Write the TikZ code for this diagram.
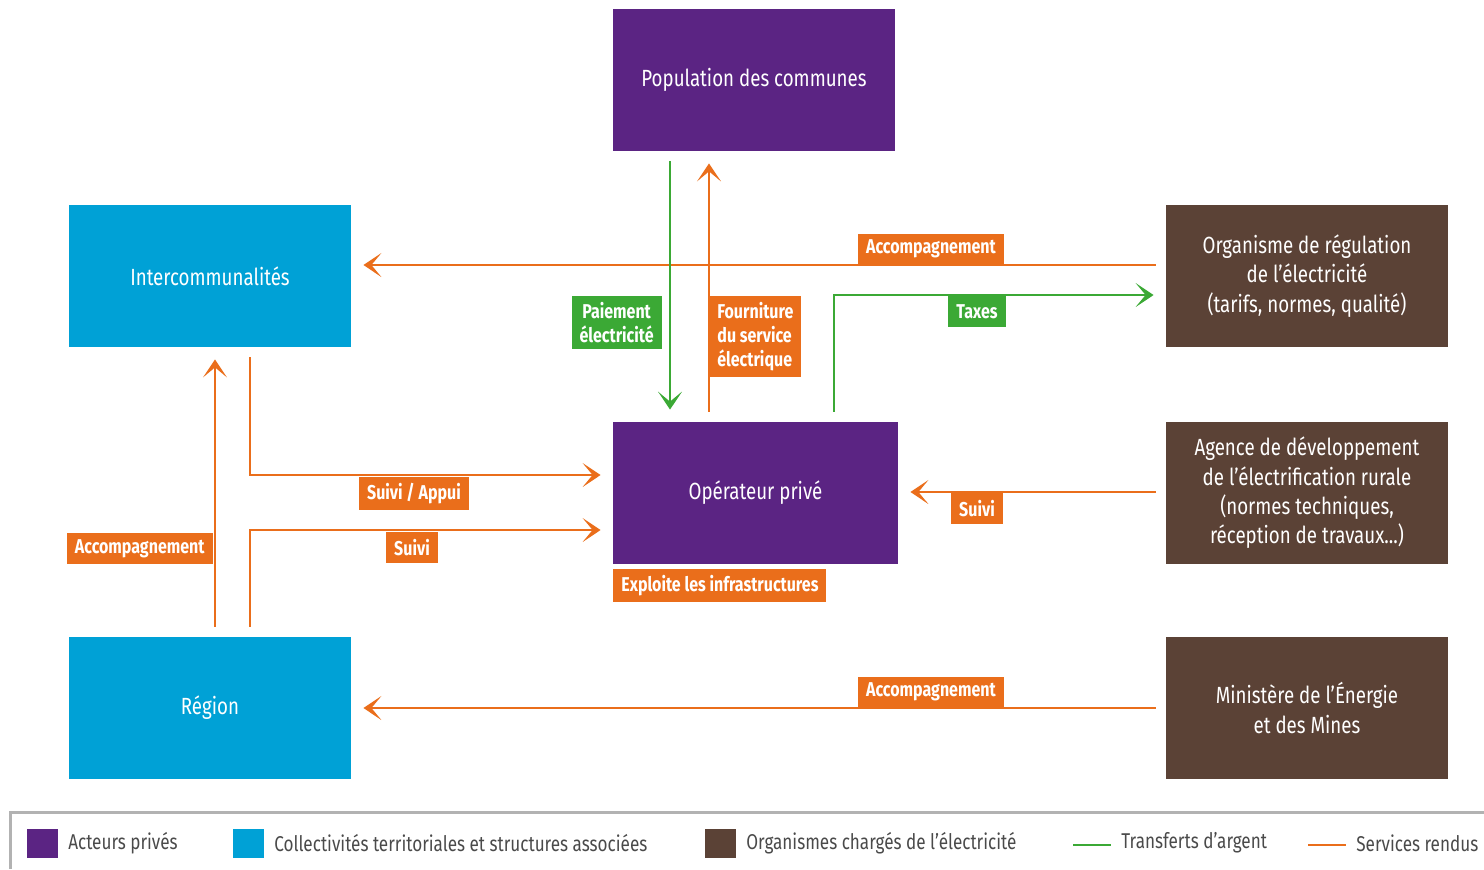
\documentclass[tikz,border=0pt]{standalone}
\usepackage{fontspec}
\setmainfont{Fira Sans}[FakeStretch=0.8]
\usetikzlibrary{arrows.meta,calc,positioning}

\definecolor{prive}{HTML}{5B2483}
\definecolor{collect}{HTML}{00A1D6}
\definecolor{organ}{HTML}{5B4236}
\definecolor{services}{HTML}{EA6E1B}
\definecolor{argent}{HTML}{3BA935}
\definecolor{legtext}{HTML}{4A4A4A}

\begin{document}
\begin{tikzpicture}[x=0.5pt,y=-0.5pt,
    box/.style={rectangle, inner sep=0pt, minimum width=141pt, minimum height=71pt,
        text=white, align=center, font=\fontsize{11.7}{14.7}\selectfont},
    lbl/.style={rectangle, inner xsep=4pt, inner ysep=3pt, minimum height=15.5pt,
        text=white, align=center, font=\bfseries\fontsize{10}{12}\selectfont},
    srv/.style={draw=services, line width=1.3pt, -{Stealth[length=9pt,width=12pt,inset=5pt]},
        shorten >=6pt, shorten <=5pt},
    mon/.style={srv, draw=argent},
    key/.style={rectangle, inner sep=0pt, minimum width=15.5pt, minimum height=14.5pt},
    legtxt/.style={text=legtext, font=\fontsize{10.7}{12}\selectfont, inner sep=0pt}]

    \useasboundingbox (0,0) rectangle (1484,869);

    % acteurs
    \node [box, fill=prive] (pop) at (754,80) {Population des communes};
    \node [box, fill=collect] (inter) at (210,276) {Intercommunalités};
    \node [box, fill=organ] (regul) at (1307,276) {Organisme de régulation\\de l’électricité\\(tarifs, normes, qualité)};
    \node [box, fill=prive, minimum width=142.5pt] (oper) at (755.5,493) {Opérateur privé};
    \node [box, fill=organ] (agence) at (1307,493) {Agence de développement\\de l’électrification rurale\\(normes techniques,\\réception de travaux...)};
    \node [box, fill=collect] (region) at (210,708) {Région};
    \node [box, fill=organ] (minist) at (1307,708) {Ministère de l’Énergie\\et des Mines};

    % positions des traits
    \coordinate (xpay) at (670,0);
    \coordinate (xfour) at (709,0);
    \coordinate (xtax) at (834,0);
    \coordinate (xacc) at (215,0);
    \coordinate (xsuiv) at (250,0);
    \coordinate (ytop) at (0,265);
    \coordinate (ytax) at (0,295);
    \coordinate (yappui) at (0,475);
    \coordinate (ysuivi) at (0,530);
    \coordinate (yag) at (0,492);
    \coordinate (ybot) at (0,708);

    \draw [srv] (regul.west |- ytop) -- (inter.east |- ytop);
    \draw [mon] (pop.south -| xpay) -- (oper.north -| xpay);
    \draw [srv] (oper.north -| xfour) -- (pop.south -| xfour);
    \draw [mon] (oper.north -| xtax) |- (regul.west |- ytax);
    \draw [srv] (inter.south -| xsuiv) |- (oper.west |- yappui);
    \draw [srv] (region.north -| xsuiv) |- (oper.west |- ysuivi);
    \draw [srv] (region.north -| xacc) -- (inter.south -| xacc);
    \draw [srv] (agence.west |- yag) -- (oper.east |- yag);
    \draw [srv] (minist.west |- ybot) -- (region.east |- ybot);

    % etiquettes
    \node [lbl, fill=services, anchor=south] (accH) at (931,265) {Accompagnement};
    \node [lbl, fill=argent, anchor=north] (taxes) at (977,296) {Taxes};
    \node [lbl, fill=argent, anchor=north east] (paie) at (662,296) {Paiement\\électricité};
    \node [lbl, fill=services, anchor=north west, align=left] (four) at (709,296) {Fourniture\\du service\\électrique};
    \node [lbl, fill=services, anchor=north] (appui) at (414,477) {Suivi / Appui};
    \node [lbl, fill=services, anchor=north] (suiviG) at (412,532) {Suivi};
    \node [lbl, fill=services, anchor=north east] (accG) at (213,533) {Accompagnement};
    \node [lbl, fill=services, anchor=north] (suiviD) at (977,493) {Suivi};
    \node [lbl, fill=services, anchor=north west] (exploit) at (613,569) {Exploite les infrastructures};
    \node [lbl, fill=services, anchor=south] (accB) at (931,708) {Accompagnement};

    % legende
    \draw [line width=1.5pt, draw=black!30] (10,869) -- (10,812) -- (1484,812);
    \node [key, fill=prive] (kprive) at (42,843) {};
    \node [legtxt, right=5pt of kprive] (tprive) {Acteurs privés};
    \node [key, fill=collect] (kcoll) at (248,843) {};
    \node [legtxt, right=5pt of kcoll] (tcoll) {Collectivités territoriales et structures associées};
    \node [key, fill=organ] (korg) at (720,843) {};
    \node [legtxt, right=5pt of korg] (torg) {Organismes chargés de l’électricité};
    \coordinate (karg) at (1073,845);
    \draw [line width=1.2pt, draw=argent] (karg) -- ++(38,0) coordinate (karg2);
    \node [legtxt, anchor=west] (targ) at (1121,843) {Transferts d’argent};
    \coordinate (kserv) at (1308,845);
    \draw [line width=1.2pt, draw=services] (kserv) -- ++(38,0) coordinate (kserv2);
    \node [legtxt, anchor=west] (tserv) at (1356,843) {Services rendus};
\end{tikzpicture}
\end{document}
